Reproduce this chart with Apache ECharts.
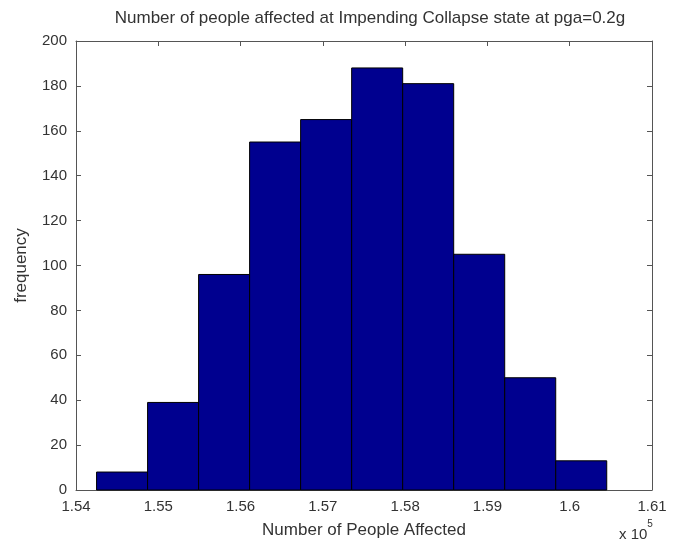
<!DOCTYPE html>
<html>
<head>
<meta charset="utf-8">
<script src="https://cdn.jsdelivr.net/npm/echarts@6/dist/echarts.min.js"></script>
<style>
html,body{margin:0;padding:0;background:#fff;}
#chart{width:676px;height:544px;}
</style>
</head>
<body>
<div id="chart"></div>
<script>
// Histogram bin edges (x 10^5) and frequencies
var binEdges = [1.5425, 1.5487, 1.5549, 1.5611, 1.5673, 1.5735, 1.5797, 1.5859, 1.5921, 1.5983, 1.6045];
var counts = [8, 39, 96, 155, 165, 188, 181, 105, 50, 13];
var titleText = 'Number of people affected at Impending Collapse state at pga=0.2g';
var xName = 'Number of People Affected';
var yName = 'frequency';

var barData = counts.map(function (c, i) { return [binEdges[i], binEdges[i + 1], c]; });

var font = 'Liberation Sans, Arial, sans-serif';
var textColor = '#333333';
var axisColor = '#555555';

var chart = echarts.init(document.getElementById('chart'), null, {renderer: 'canvas'});
function axisCommon() {
  return {
    axisLine: {show: true, onZero: false, lineStyle: {color: axisColor, width: 1}},
    axisTick: {show: true, inside: true, length: 5, lineStyle: {color: axisColor}},
    splitLine: {show: false}
  };
}
chart.setOption({
  animation: false,
  backgroundColor: '#fff',
  title: {
    text: titleText, left: 365, top: 5, textAlign: 'center',
    textStyle: {fontFamily: font, fontSize: 17, fontWeight: 'normal', color: textColor}
  },
  grid: {left: 76, right: 24, top: 41, bottom: 53},
  xAxis: [
    Object.assign({
      type: 'value', position: 'bottom', min: 1.54, max: 1.61, interval: 0.01,
      name: xName, nameLocation: 'middle', nameGap: 32,
      nameTextStyle: {fontFamily: font, fontSize: 17, color: textColor},
      axisLabel: {
        fontFamily: font, fontSize: 15, color: textColor, margin: 9,
        formatter: function (v) { return parseFloat(v.toFixed(2)).toString(); }
      }
    }, axisCommon()),
    Object.assign({
      type: 'value', position: 'top', min: 1.54, max: 1.61, interval: 0.01,
      axisLabel: {show: false}
    }, axisCommon())
  ],
  yAxis: [
    Object.assign({
      type: 'value', position: 'left', min: 0, max: 200, interval: 20,
      name: yName, nameLocation: 'middle', nameGap: 46, nameRotate: 90,
      nameTextStyle: {fontFamily: font, fontSize: 17, color: textColor},
      axisLabel: {fontFamily: font, fontSize: 15, color: textColor, margin: 9}
    }, axisCommon()),
    Object.assign({
      type: 'value', position: 'right', min: 0, max: 200, interval: 20,
      axisLabel: {show: false}
    }, axisCommon())
  ],
  graphic: [{
    type: 'text', left: 619, top: 519,
    style: {
      text: '{a|x 10}{b|5}',
      rich: {
        a: {fontFamily: font, fontSize: 15, fill: textColor, verticalAlign: 'bottom', padding: [8, 0, 0, 0]},
        b: {fontFamily: font, fontSize: 10, fill: textColor, verticalAlign: 'top'}
      }
    }
  }],
  series: [{
    type: 'custom',
    xAxisIndex: 0, yAxisIndex: 0,
    data: barData,
    encode: {x: [0, 1], y: 2},
    renderItem: function (params, api) {
      var p0 = api.coord([api.value(0), api.value(2)]);
      var p1 = api.coord([api.value(1), 0]);
      return {
        type: 'rect',
        shape: {x: p0[0], y: p0[1], width: p1[0] - p0[0], height: p1[1] - p0[1]},
        style: {fill: '#00008F', stroke: '#000000', lineWidth: 1}
      };
    }
  }]
});
</script>
</body>
</html>
